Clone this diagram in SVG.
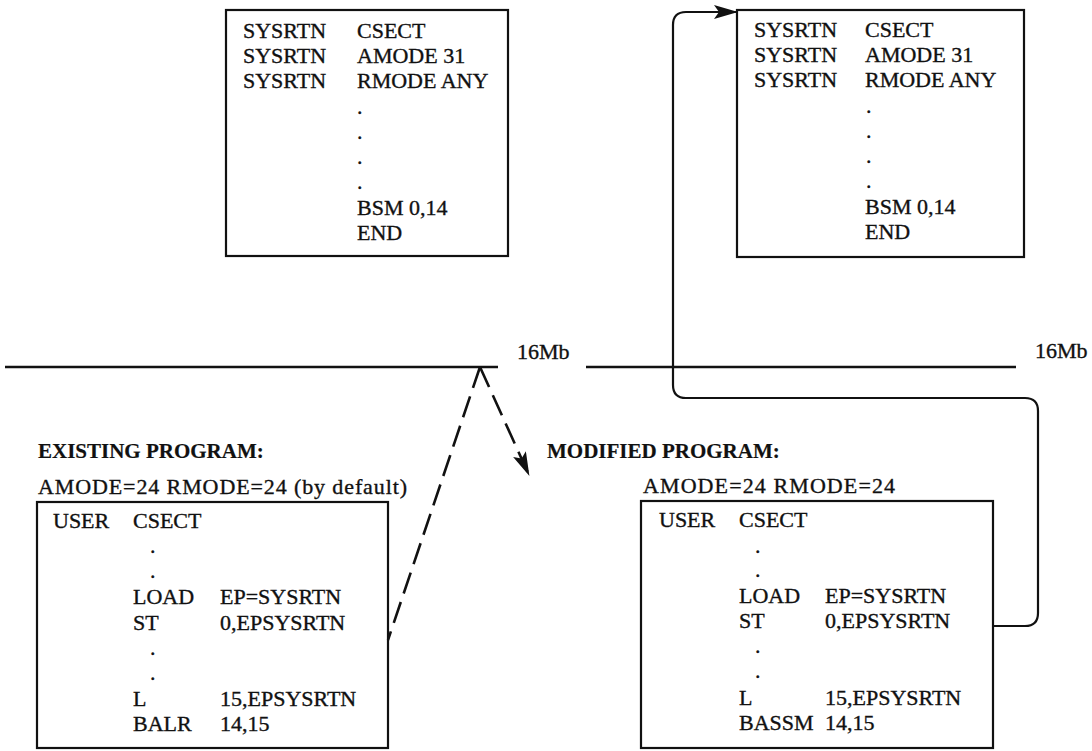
<svg xmlns="http://www.w3.org/2000/svg" width="1092" height="751" viewBox="0 0 1092 751">
<style>
  .box { fill: #fff; stroke: #111; stroke-width: 2.2; }
  .rule { stroke: #111; stroke-width: 2.6; fill: none; }
  .conn { stroke: #111; stroke-width: 2.2; fill: none; }
  .dash { stroke: #111; stroke-width: 2.6; fill: none; stroke-dasharray: 22 9; }
  text { font-family: "Liberation Serif", "Times New Roman", serif; font-size: 22px; fill: #111; stroke: #111; stroke-width: 0.35; }
  .title { font-weight: bold; font-size: 21px; stroke-width: 0.2; }
</style>
<defs>
  <marker id="arrow" viewBox="0 0 24 14" refX="23" refY="7" markerWidth="24" markerHeight="14" markerUnits="userSpaceOnUse" orient="auto">
    <path d="M0,0 L24,7 L0,14 L5,7 z" fill="#111" stroke="none"/>
  </marker>
</defs>

<!-- 16Mb boundary -->
<g id="boundary">
  <line class="rule" x1="5" y1="367" x2="498" y2="367"/>
  <line class="rule" x1="586" y1="367" x2="1016" y2="367"/>
  <text x="517" y="359">16Mb</text>
  <text x="1035" y="358">16Mb</text>
</g>

<!-- top-left SYSRTN -->
<g id="sysrtn-left">
  <rect class="box" x="226" y="10" width="282" height="246"/>
  <text x="243" y="38">SYSRTN</text><text x="357" y="38">CSECT</text>
  <text x="243" y="63">SYSRTN</text><text x="357" y="63">AMODE 31</text>
  <text x="243" y="88">SYSRTN</text><text x="357" y="88">RMODE ANY</text>
  <text x="357" y="114">.</text>
  <text x="357" y="139">.</text>
  <text x="357" y="164">.</text>
  <text x="357" y="189">.</text>
  <text x="357" y="215">BSM 0,14</text>
  <text x="357" y="240">END</text>
</g>

<!-- top-right SYSRTN -->
<g id="sysrtn-right">
  <rect class="box" x="737" y="10" width="287" height="247"/>
  <text x="754" y="37">SYSRTN</text><text x="865" y="37">CSECT</text>
  <text x="754" y="62">SYSRTN</text><text x="865" y="62">AMODE 31</text>
  <text x="754" y="87">SYSRTN</text><text x="865" y="87">RMODE ANY</text>
  <text x="866" y="113">.</text>
  <text x="866" y="138">.</text>
  <text x="866" y="163">.</text>
  <text x="866" y="188">.</text>
  <text x="865" y="214">BSM 0,14</text>
  <text x="865" y="239">END</text>
</g>

<!-- existing program -->
<g id="existing">
  <text class="title" x="38" y="458">EXISTING PROGRAM:</text>
  <text x="38" y="494" textLength="369" lengthAdjust="spacing">AMODE=24 RMODE=24 (by default)</text>
  <rect class="box" x="37" y="502" width="351" height="246"/>
  <text x="53" y="528">USER</text><text x="133" y="528">CSECT</text>
  <text x="150" y="553">.</text>
  <text x="150" y="578">.</text>
  <text x="133" y="604">LOAD</text><text x="220" y="604">EP=SYSRTN</text>
  <text x="133" y="630">ST</text><text x="220" y="630">0,EPSYSRTN</text>
  <text x="150" y="655">.</text>
  <text x="150" y="680">.</text>
  <text x="133" y="706">L</text><text x="220" y="706">15,EPSYSRTN</text>
  <text x="133" y="731">BALR</text><text x="220" y="731">14,15</text>
</g>

<!-- modified program -->
<g id="modified">
  <text class="title" x="547" y="458">MODIFIED PROGRAM:</text>
  <text x="643" y="493" textLength="252" lengthAdjust="spacing">AMODE=24 RMODE=24</text>
  <rect class="box" x="641" y="501" width="352" height="247"/>
  <text x="659" y="527">USER</text><text x="739" y="527">CSECT</text>
  <text x="755" y="553">.</text>
  <text x="755" y="577">.</text>
  <text x="739" y="603">LOAD</text><text x="825" y="603">EP=SYSRTN</text>
  <text x="739" y="628">ST</text><text x="825" y="628">0,EPSYSRTN</text>
  <text x="755" y="653">.</text>
  <text x="755" y="678">.</text>
  <text x="739" y="705">L</text><text x="825" y="705">15,EPSYSRTN</text>
  <text x="739" y="730">BASSM</text><text x="825" y="730">14,15</text>
</g>

<!-- connectors -->
<g id="connectors">
  <path class="dash" d="M480,367 L388,640"/>
  <path class="dash" d="M480,367 L529,475" marker-end="url(#arrow)"/>
  <path class="conn" d="M993,626 H1025 Q1038,626 1038,613 V411 Q1038,398 1025,398 H686 Q673,398 673,385 V25 Q673,12 686,12 H737" marker-end="url(#arrow)"/>
</g>
</svg>
